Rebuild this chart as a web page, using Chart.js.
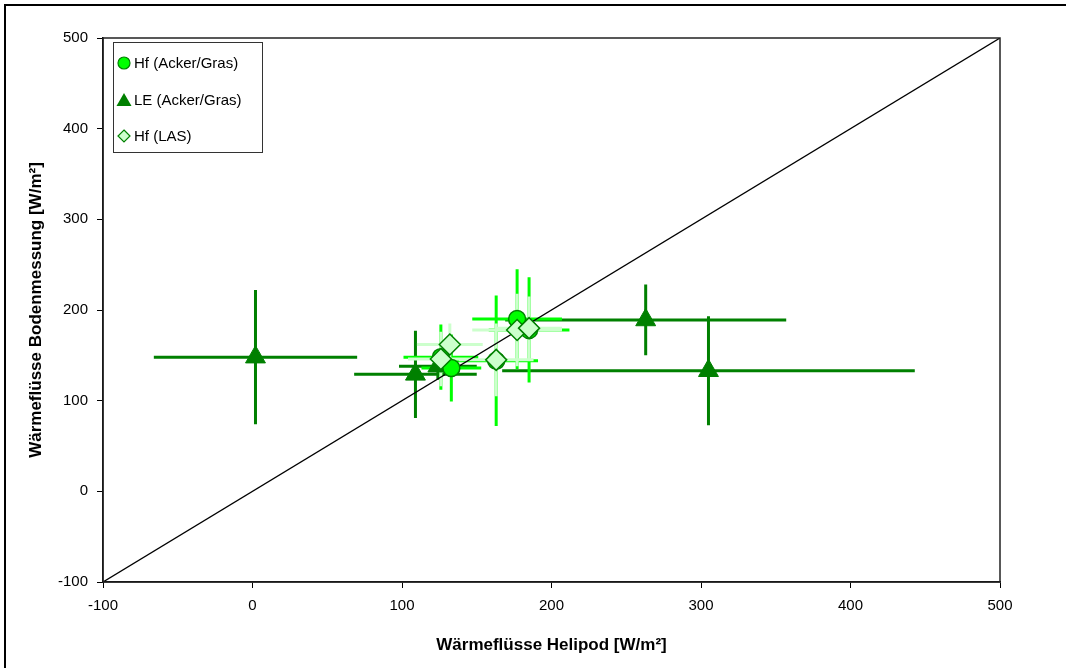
<!DOCTYPE html>
<html>
<head>
<meta charset="utf-8">
<script src="https://cdn.jsdelivr.net/npm/chart.js@4.4.1/dist/chart.umd.min.js"></script>
<style>
  html, body { margin: 0; padding: 0; background: #fff; }
  #wrap { width: 1066px; height: 668px; }
</style>
</head>
<body>
<div id="wrap"><canvas id="chartFluxes" width="1066" height="668"></canvas></div>
<script>
// Hf (Acker/Gras)
const hfX    = [133, 126, 163, 177, 185];
const hfY    = [136, 148, 144, 190, 178];
const hfXErr = [20, 25, 28, 30, 27];
const hfYErr = [37, 36, 72, 55, 58];

// LE (Acker/Gras)
const leX    = [2, 109, 124, 263, 305];
const leY    = [148, 129, 138, 189, 133];
const leXErr = [68, 41, 26, 94, 138];
const leYErr = [74, 48, 15, 39, 60];

// Hf (LAS)
const lasX    = [132, 126, 163, 177, 185];
const lasY    = [162, 146, 145, 178, 180];
const lasXErr = [22, 22, 25, 30, 22];
const lasYErr = [23, 30, 40, 40, 35];

const axisTicks = [-100, 0, 100, 200, 300, 400, 500];
const seriesNames = ['Hf (Acker/Gras)', 'LE (Acker/Gras)', 'Hf (LAS)'];

const DARK = '#008000';
const BRIGHT = '#00ff00';
const PALE = '#ccffcc';

function toPoints(xs, ys) {
  return xs.map((x, i) => ({ x: x, y: ys[i] }));
}

// error bars per dataset label: [xErr, yErr, colour]
const errorBars = {
  [seriesNames[0]]: [hfXErr, hfYErr, BRIGHT],
  [seriesNames[1]]: [leXErr, leYErr, DARK],
  [seriesNames[2]]: [lasXErr, lasYErr, PALE]
};

const errorBarPlugin = {
  id: 'errorBars',
  beforeDatasetsDraw(chart) {
    const ctx = chart.ctx;
    const xs = chart.scales.x, ys = chart.scales.y;
    ctx.save();
    ctx.lineWidth = 3;
    // drawn bottom series first
    [seriesNames[1], seriesNames[0], seriesNames[2]].forEach(name => {
      const ds = chart.data.datasets.find(d => d.label === name);
      const [ex, ey, col] = errorBars[name];
      ctx.strokeStyle = col;
      ds.data.forEach((p, i) => {
        const px = xs.getPixelForValue(p.x), py = ys.getPixelForValue(p.y);
        ctx.beginPath();
        ctx.moveTo(xs.getPixelForValue(p.x - ex[i]), py);
        ctx.lineTo(xs.getPixelForValue(p.x + ex[i]), py);
        ctx.moveTo(px, ys.getPixelForValue(p.y - ey[i]));
        ctx.lineTo(px, ys.getPixelForValue(p.y + ey[i]));
        ctx.stroke();
      });
    });
    ctx.restore();
  }
};

const framePlugin = {
  id: 'frames',
  beforeDraw(chart) {
    const ctx = chart.ctx;
    ctx.save();
    ctx.fillStyle = '#000';
    ctx.fillRect(4, 4, chart.width, 2);
    ctx.fillRect(4, 4, 2, chart.height);
    ctx.restore();
  },
  afterDraw(chart) {
    const ctx = chart.ctx;
    const a = chart.chartArea;
    ctx.save();
    ctx.strokeStyle = '#222';
    ctx.lineWidth = 1.5;
    ctx.strokeRect(a.left, a.top, a.right - a.left, a.bottom - a.top);

    // legend box inside the plot
    const bx = a.left + 10, by = a.top + 4, bw = 149, bh = 110;
    ctx.fillStyle = '#fff';
    ctx.fillRect(bx, by, bw, bh);
    ctx.strokeStyle = '#333';
    ctx.lineWidth = 1;
    ctx.strokeRect(bx + 0.5, by + 0.5, bw, bh);
    ctx.font = '15px "Liberation Sans", Arial, sans-serif';
    ctx.textBaseline = 'middle';
    ctx.textAlign = 'left';
    const rows = [by + 21, by + 58, by + 94];
    const mx = bx + 11;
    // circle
    ctx.beginPath();
    ctx.arc(mx, rows[0], 6, 0, Math.PI * 2);
    ctx.fillStyle = BRIGHT; ctx.fill();
    ctx.strokeStyle = DARK; ctx.lineWidth = 1.2; ctx.stroke();
    // triangle
    ctx.beginPath();
    ctx.moveTo(mx, rows[1] - 7);
    ctx.lineTo(mx + 7.5, rows[1] + 6);
    ctx.lineTo(mx - 7.5, rows[1] + 6);
    ctx.closePath();
    ctx.fillStyle = DARK; ctx.fill();
    // diamond
    ctx.beginPath();
    ctx.moveTo(mx, rows[2] - 6);
    ctx.lineTo(mx + 6, rows[2]);
    ctx.lineTo(mx, rows[2] + 6);
    ctx.lineTo(mx - 6, rows[2]);
    ctx.closePath();
    ctx.fillStyle = PALE; ctx.fill();
    ctx.strokeStyle = DARK; ctx.lineWidth = 1.2; ctx.stroke();
    ctx.fillStyle = '#000';
    seriesNames.forEach((n, i) => ctx.fillText(n, mx + 10, rows[i] + 1));
    ctx.restore();
  }
};

const tickFont = { family: '"Liberation Sans", Arial, sans-serif', size: 15 };
const titleFont = { family: '"Liberation Sans", Arial, sans-serif', size: 17, weight: 'bold' };

new Chart(document.getElementById('chartFluxes').getContext('2d'), {
  type: 'scatter',
  data: {
    datasets: [
      {
        label: seriesNames[0],
        data: toPoints(hfX, hfY),
        pointStyle: 'circle',
        pointRadius: 8.5,
        backgroundColor: BRIGHT,
        borderColor: DARK,
        borderWidth: 1.5,
        order: 1
      },
      {
        label: seriesNames[1],
        data: toPoints(leX, leY),
        pointStyle: 'triangle',
        pointRadius: 11.5,
        backgroundColor: DARK,
        borderColor: DARK,
        borderWidth: 1,
        order: 2
      },
      {
        label: seriesNames[2],
        data: toPoints(lasX, lasY),
        pointStyle: 'rectRot',
        pointRadius: 10.5,
        backgroundColor: PALE,
        borderColor: DARK,
        borderWidth: 1.5,
        order: 0
      },
      {
        // 1:1 line
        type: 'line',
        label: '1:1',
        data: [{ x: -100, y: -100 }, { x: 500, y: 500 }],
        borderColor: '#000',
        borderWidth: 1.3,
        pointRadius: 0,
        order: 3
      }
    ]
  },
  options: {
    responsive: false,
    animation: false,
    devicePixelRatio: 1,
    layout: { padding: { left: 20, top: 38, right: 66, bottom: 0 } },
    plugins: {
      legend: { display: false },
      tooltip: { enabled: false }
    },
    scales: {
      x: {
        type: 'linear',
        min: -100,
        max: 500,
        afterBuildTicks: s => { s.ticks = axisTicks.map(v => ({ value: v })); },
        afterFit: s => { s.height = 86; },
        ticks: { color: '#000', font: tickFont, padding: 9 },
        grid: { drawOnChartArea: false, tickLength: 6, color: '#000' },
        border: { color: '#000', width: 1.5 },
        title: { display: true, text: 'Wärmeflüsse Helipod [W/m²]', color: '#000', font: titleFont, padding: { top: 6, bottom: 12 } }
      },
      y: {
        type: 'linear',
        min: -100,
        max: 500,
        afterBuildTicks: s => { s.ticks = axisTicks.map(v => ({ value: v })); },
        afterFit: s => { s.width = 83; },
        ticks: { color: '#000', font: tickFont, padding: 9 },
        grid: { drawOnChartArea: false, tickLength: 6, color: '#000' },
        border: { color: '#000', width: 1.5 },
        title: { display: true, text: 'Wärmeflüsse Bodenmessung [W/m²]', color: '#000', font: titleFont, padding: { top: 6, bottom: 6 } }
      }
    }
  },
  plugins: [errorBarPlugin, framePlugin]
});
</script>
</body>
</html>
